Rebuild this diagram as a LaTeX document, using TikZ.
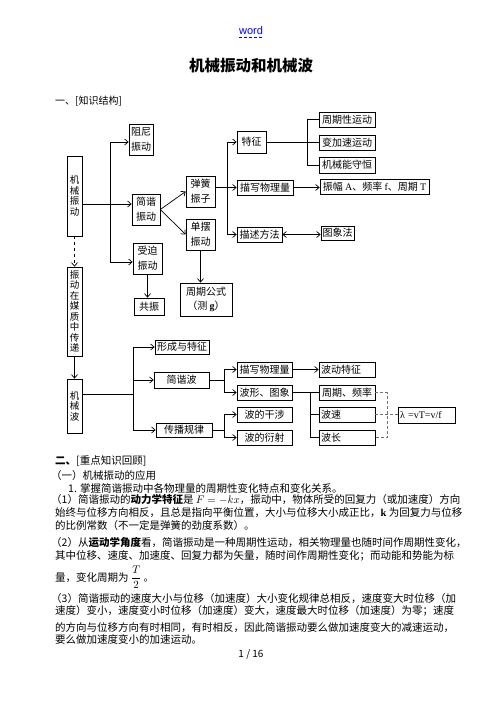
\documentclass[tikz,border=0pt]{standalone}
\usepackage{fontspec}
\setmainfont{Noto Sans CJK SC}
\newfontfamily\lat{Liberation Serif}
\newfontfamily\hdr{Liberation Sans}
\usetikzlibrary{arrows.meta,calc}

\tikzset{
	kbox/.style 2 args={draw, line width=0.7pt, inner sep=0pt, align=center, minimum width=#1pt, minimum height=#2pt, font=\fontsize{10}{15}\selectfont},
	vbox/.style 2 args={kbox={#1}{#2}, font=\fontsize{9.5}{10.5}\selectfont},
	lbox/.style n args={3}{kbox={#1}{#2}, text width=#3pt, align=left},
	arr/.style={line width=0.7pt, -{Straight Barb[length=3.5pt,width=6pt]}},
	darr/.style={line width=0.7pt, {Straight Barb[length=3.5pt,width=6pt]}-{Straight Barb[length=3.5pt,width=6pt]}},
	ln/.style={line width=0.7pt},
	dln/.style={line width=0.8pt, black!55, dash pattern=on 3pt off 2pt},
	body/.style={anchor=west, inner sep=0pt, font=\fontsize{10.5}{12}\selectfont},
}

\begin{document}
\begin{tikzpicture}[x=1pt, y=-1pt]
		%%%%% START %%%%%
		
		\useasboundingbox[fill=white] (0, 0) rectangle (502, 708);
		
		\node[anchor=base, inner sep=0pt, text=blue, font=\hdr\fontsize{11}{12}\selectfont] (word) at (251, 35) {word};
		\draw[blue, line width=0.6pt, dash pattern=on 3pt off 2pt] ($(word.base west)+(0, 2.5)$) -- ($(word.base east)+(0, 2.5)$);
		\node[inner sep=0pt, font=\fontsize{15.5}{16}\selectfont\bfseries] (title) at (251, 66) {机械振动和机械波};
		\node[body, font=\fontsize{10}{12}\selectfont] (part1) at (55, 101.5) {一、[知识结构]};
		
		% 机械振动
		\node[vbox={15}{80}] (jxzd) at (74.5, 196) {机\\械\\振\\动};
		\node[kbox={24}{31}] (zuni) at (141, 139.5) {阻尼\\振动};
		\node[kbox={28}{31}] (jianxie) at (146, 209.5) {简谐\\振动};
		\node[kbox={29}{31}] (shoupo) at (147.5, 258.5) {受迫\\振动};
		\node[kbox={30}{17}] (gongzhen) at (149, 306.5) {共振};
		\node[kbox={29}{31}] (tanhuang) at (200.5, 191.5) {弹簧\\振子};
		\node[kbox={29}{31}] (danbai) at (200.5, 234.5) {单摆\\振动};
		\node[kbox={52}{33}, font=\fontsize{10}{13.5}\selectfont] (zqgs) at (206, 299.5) {周期公式\\（测 {\lat\bfseries g}）};
		
		\node[kbox={29}{22}] (tezheng) at (251.5, 142) {特征};
		\node[kbox={56}{15}] (miaoxie) at (265, 187.5) {描写物理量};
		\node[kbox={45}{15}] (miaoshu) at (259.5, 234.5) {描述方法};
		\node[kbox={56}{15}] (zqx) at (347, 119.5) {周期性运动};
		\node[kbox={56}{15}] (bjs) at (347, 142.5) {变加速运动};
		\node[kbox={56}{16}] (jxn) at (347, 165) {机械能守恒};
		\node[kbox={109}{15}] (zhenfu) at (374.5, 186.5) {振幅 {\lat A}、频率 {\lat f}、周期 {\lat T}};
		\node[kbox={33}{14}] (tuxiang) at (337.5, 233) {图象法};
		
		\coordinate (s1) at (110, 142);
		\coordinate (s2) at (110, 262);
		\coordinate (m1) at (110, 204);
		\draw[ln] (s1) -- (s2);
		\draw[arr] (s1) -- (zuni.west |- s1);
		\draw[arr] (s2) -- (shoupo.west |- s2);
		\draw[arr] (jxzd.east |- m1) -- (jianxie.west |- m1);
		\draw[arr] (jianxie.east) -- (tanhuang.west);
		\draw[arr] (jianxie.east) -- (danbai.west);
		\draw[arr] (danbai.south) -- (danbai.south |- zqgs.north);
		\draw[arr] (shoupo.south) -- (shoupo.south |- gongzhen.north);
		
		\coordinate (t1) at (227, 142);
		\coordinate (t2) at (227, 234.5);
		\draw[ln] (t1) -- (t2);
		\draw[arr] (t1) -- (tezheng.west);
		\draw[arr] (tanhuang.east |- miaoxie.west) -- (miaoxie.west);
		\draw[arr] (t2) -- (miaoshu.west);
		\draw[arr] (miaoxie.east) -- (miaoxie.east -| zhenfu.west);
		\draw[darr] (miaoshu.east) -- (miaoshu.east -| tuxiang.west);
		
		\coordinate (b1) at (307, 119.5);
		\draw[ln] (tezheng.east) -- (tezheng.east -| bjs.west);
		\draw[ln] (zqx.west) -- (zqx.west -| b1) -- (jxn.west -| b1) -- (jxn.west);
		
		% 机械波
		\node[vbox={15}{89}] (chuandi) at (74.5, 311.5) {振\\动\\在\\媒\\质\\中\\传\\递};
		\node[vbox={15}{54}] (jxb) at (74.5, 406) {机\\械\\波};
		\node[kbox={54}{14}] (xingcheng) at (182, 347) {形成与特征};
		\node[kbox={55}{16}] (jxbo) at (181.5, 380) {简谐波};
		\node[kbox={56}{14}] (chuanbo) at (184, 430) {传播规律};
		\node[kbox={55}{15}] (bmiaoxie) at (264.5, 369.5) {描写物理量};
		\node[kbox={55}{15}] (boxing) at (264.5, 392.5) {波形、图象};
		\node[kbox={55}{15}] (ganshe) at (264.5, 414.5) {波的干涉};
		\node[kbox={55}{15}] (yanshe) at (264.5, 437.5) {波的衍射};
		\node[lbox={56}{15}{52}] (bdtz) at (347, 369.5) {波动特征};
		\node[kbox={56}{15}] (zqpl) at (347, 392.5) {周期、频率};
		\node[lbox={56}{15}{52}] (bosu) at (347, 414.5) {波速};
		\node[lbox={56}{15}{52}] (bochang) at (347, 437.5) {波长};
		\node[lbox={57}{16}{53}] (lam) at (426.5, 415) {{\lat λ =vT=v/f}};
		
		\draw[arr, dashed] (jxzd.south) -- (chuandi.north);
		\draw[arr] (chuandi.south) -- (jxb.north);
		
		\coordinate (w1) at (133, 347);
		\coordinate (w2) at (133, 430);
		\coordinate (m2) at (133, 394);
		\draw[ln] (jxb.east |- m2) -- (m2);
		\draw[ln] (w1) -- (w2);
		\draw[arr] (w1) -- (xingcheng.west |- w1);
		\draw[arr] (w1 |- jxbo.west) -- (jxbo.west);
		\draw[arr] (w2) -- (chuanbo.west |- w2);
		
		\coordinate (u1) at (224, 369.5);
		\coordinate (u2) at (224, 392.5);
		\coordinate (u3) at (224, 414.5);
		\coordinate (u4) at (224, 437.5);
		\draw[ln] (jxbo.east) -- (jxbo.east -| u1);
		\draw[ln] (u1) -- (u2);
		\draw[arr] (u1) -- (bmiaoxie.west);
		\draw[arr] (u2) -- (boxing.west);
		\draw[ln] (chuanbo.east) -- (chuanbo.east -| u3);
		\draw[ln] (u3) -- (u4);
		\draw[arr] (u3) -- (ganshe.west);
		\draw[arr] (u4) -- (yanshe.west);
		\draw[arr] (bmiaoxie.east) -- (bdtz.west);
		
		\coordinate (r1) at (310, 392.5);
		\draw[ln] (boxing.east) -- (zqpl.west);
		\draw[ln] (r1) -- (r1 |- bochang.west) -- (bochang.west);
		\draw[ln] (r1 |- bosu.west) -- (bosu.west);
		
		\coordinate (d1) at (387, 392.5);
		\draw[dln] (zqpl.east) -- (d1) -- (d1 |- bochang.east) -- (bochang.east);
		\draw[dln] (bosu.east) -- (bosu.east -| lam.west);
		
		% 正文
		\node[body] (l1) at (55, 461) {\textbf{二、}[重点知识回顾]};
		\node[body] (l2) at (51, 476) {（一）机械振动的应用};
		\node[body] (l3) at (68, 488) {1. 掌握简谐振动中各物理量的周期性变化特点和变化关系。};
		\node[body] (l4) at (51, 500) {（1）简谐振动的\textbf{动力学特征}是 $F=-kx$，振动中，物体所受的回复力（或加速度）方向};
		\node[body] (l5) at (55, 513) {始终与位移方向相反，且总是指向平衡位置，大小与位移大小成正比，{\lat\bfseries k} 为回复力与位移};
		\node[body] (l6) at (55, 526) {的比例常数（不一定是弹簧的劲度系数）。};
		\node[body] (l7) at (51, 543) {（2）从\textbf{运动学角度}看，简谐振动是一种周期性运动，相关物理量也随时间作周期性变化，};
		\node[body] (l8) at (55, 556) {其中位移、速度、加速度、回复力都为矢量，随时间作周期性变化；而动能和势能为标};
		\node[body, anchor=base west] (l9) at (55, 581) {量，变化周期为 $\displaystyle\frac{T}{2}$ 。};
		\node[body] (l10) at (51, 599) {（3）简谐振动的速度大小与位移（加速度）大小变化规律总相反，速度变大时位移（加};
		\node[body] (l11) at (55, 611) {速度）变小，速度变小时位移（加速度）变大，速度最大时位移（加速度）为零；速度};
		\node[body] (l12) at (55, 628) {的方向与位移方向有时相同，有时相反，因此简谐振动要么做加速度变大的减速运动，};
		\node[body] (l13) at (55, 639) {要么做加速度变小的加速运动。};
		\node[inner sep=0pt, font=\fontsize{10}{12}\selectfont] (page) at (251, 654) {1 / 16};
		
		%%%%% END %%%%%
\end{tikzpicture}
\end{document}
